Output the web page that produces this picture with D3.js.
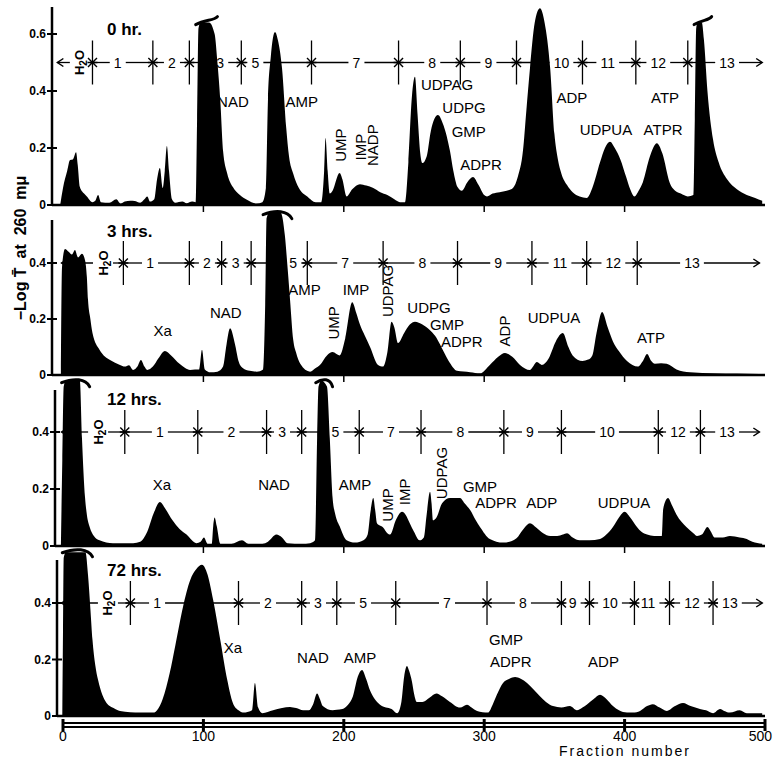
<!DOCTYPE html>
<html>
<head>
<meta charset="utf-8">
<script src="https://cdn.jsdelivr.net/npm/d3@7"></script>
<style>
body { margin: 0; background: #fff; }
svg { display: block; }
text { font-family: "Liberation Sans", Arial, sans-serif; fill: #000; }
</style>
</head>
<body>
<script>
// elution profiles, [fraction, -log T]
var hr0 = [[-2,0],[0,0.06],[3,0.12],[5,0.158],[7,0.16],[9.3,0.185],[10.5,0.14],[12,0.063],[15,0.04],[17,0.03],[21,0.01],[23,0.015],[25,0.035],[27,0.01],[33,0.008],[38,0.02],[41,0.005],[44,0.012],[48,0.015],[51,0.014],[55,0.008],[58,0.02],[60,0.03],[62,0.012],[65,0.02],[67,0.09],[69,0.13],[71,0.06],[72.5,0.12],[74,0.207],[75.5,0.12],[77.6,0.02],[80,0.008],[85,0.012],[88,0.006],[92,0.012],[94.5,0.01],[95.5,0.3],[96.5,0.62],[98,0.64],[104,0.64],[108,0.6],[110,0.5],[112,0.37],[114,0.19],[117,0.11],[121,0.063],[126,0.035],[131,0.018],[138,0.005],[142,0.01],[144.5,0.06],[146,0.37],[148,0.52],[151,0.607],[153,0.58],[156,0.48],[159,0.27],[161,0.17],[164,0.11],[168,0.06],[174,0.03],[180,0.01],[184,0.01],[186,0.12],[187,0.235],[188.5,0.12],[190,0.04],[192,0.05],[197,0.112],[199,0.09],[202,0.03],[206,0.055],[211.5,0.073],[216,0.068],[221,0.06],[226,0.045],[231,0.035],[236,0.02],[240,0.01],[243.6,0.01],[246,0.15],[248.5,0.38],[250.7,0.45],[252.5,0.32],[254.5,0.18],[256,0.147],[259,0.17],[262,0.26],[267,0.316],[271,0.28],[275.6,0.19],[278,0.12],[281,0.063],[284,0.05],[288,0.08],[292,0.098],[296,0.07],[300,0.035],[302,0.03],[306,0.04],[311,0.045],[316,0.05],[320.5,0.06],[324,0.1],[327.6,0.19],[330,0.33],[332.6,0.48],[336,0.64],[339.7,0.69],[343,0.64],[347,0.48],[350,0.25],[352.5,0.16],[355,0.11],[359,0.07],[363,0.045],[368,0.03],[373,0.025],[377,0.06],[382.5,0.15],[386,0.2],[389.6,0.222],[393,0.2],[397,0.16],[401,0.1],[404,0.055],[407,0.03],[410,0.05],[413,0.08],[418,0.17],[423,0.217],[427,0.18],[432,0.08],[436,0.05],[440,0.04],[445,0.03],[449,0.035],[450,0.3],[451,0.62],[452,0.64],[455,0.64],[456.5,0.58],[459,0.4],[463,0.23],[467,0.15],[473,0.09],[480,0.055],[487,0.035],[493,0.025],[498,0.015]];

var hr3 = [[-1.5,0],[-0.7,0.386],[1.4,0.45],[4,0.44],[6.4,0.43],[8.5,0.446],[10.7,0.42],[13.5,0.433],[15.7,0.41],[17,0.35],[17.8,0.27],[19.5,0.2],[21,0.15],[26,0.09],[30,0.065],[33.5,0.054],[40.6,0.036],[44,0.03],[47,0.035],[50,0.018],[53,0.03],[55.5,0.054],[58,0.03],[60,0.018],[64,0.03],[68,0.06],[72.6,0.086],[77,0.07],[83,0.04],[87,0.025],[90.5,0.018],[94,0.02],[97,0.02],[99,0.09],[101,0.02],[105,0.01],[110,0.012],[114,0.03],[116.5,0.11],[119,0.167],[122.5,0.11],[125,0.05],[128,0.025],[133,0.015],[138,0.012],[142.5,0.02],[144,0.25],[145,0.56],[147,0.58],[155,0.58],[158,0.5],[160,0.38],[161.7,0.27],[164,0.125],[166,0.08],[169,0.04],[176,0.012],[180,0.025],[183,0.036],[188,0.07],[192,0.082],[197,0.07],[201,0.13],[206,0.26],[209,0.22],[211.5,0.18],[215,0.14],[218.7,0.1],[224.4,0.036],[228,0.03],[231,0.08],[234,0.19],[236,0.17],[238.6,0.114],[243,0.15],[247,0.18],[250.7,0.19],[256,0.18],[261.4,0.16],[265,0.14],[268.5,0.11],[272,0.075],[275.6,0.043],[280.6,0.015],[290,0.01],[297,0.006],[304,0.036],[310,0.065],[314.8,0.079],[320,0.065],[325.5,0.036],[332.6,0.018],[337.6,0.046],[341,0.036],[346,0.06],[351,0.12],[356,0.15],[360,0.1],[363,0.07],[370,0.05],[374,0.055],[377,0.07],[380,0.15],[384,0.225],[388,0.17],[391.7,0.12],[396,0.085],[401.7,0.05],[409.5,0.03],[413,0.05],[416,0.075],[419,0.05],[421.6,0.04],[426,0.042],[430,0.04],[437,0.02],[446.6,0.01],[464,0.006],[480,0.005],[496,0.004]];

var hr12 = [[-1.5,0],[-0.5,0.3],[0.5,0.56],[2,0.58],[12,0.58],[13.5,0.38],[15.7,0.17],[17,0.11],[19,0.067],[22,0.035],[26,0.02],[35.6,0.01],[50,0.01],[55,0.015],[60,0.05],[65,0.12],[69,0.154],[73,0.13],[78,0.09],[83,0.06],[88,0.04],[95,0.01],[98,0.015],[100.4,0.03],[103,0.008],[106,0.008],[107,0.07],[108,0.1],[109.5,0.07],[112,0.008],[120,0.008],[127.5,0.02],[132,0.008],[142,0.008],[146,0.015],[152,0.04],[156,0.03],[160,0.01],[170,0.008],[176,0.01],[179.5,0.02],[181,0.38],[182,0.56],[184,0.58],[188,0.56],[190,0.38],[192,0.17],[194,0.11],[197,0.07],[202,0.02],[208,0.012],[214,0.02],[217,0.04],[219,0.12],[221,0.168],[222.5,0.12],[223.6,0.08],[228,0.065],[231,0.045],[233,0.04],[237,0.09],[241.5,0.12],[244,0.11],[247,0.08],[250,0.05],[254,0.02],[257,0.03],[259,0.11],[261.4,0.19],[262.5,0.15],[263.5,0.09],[266,0.1],[270,0.15],[275.6,0.168],[282.8,0.168],[286,0.15],[290,0.126],[294,0.09],[297,0.067],[304,0.025],[313.4,0.012],[318,0.015],[323,0.027],[328,0.06],[332.6,0.08],[337,0.065],[342,0.045],[347,0.035],[352,0.035],[356,0.04],[359,0.045],[363,0.03],[368,0.02],[375,0.02],[382.5,0.025],[387,0.04],[391.7,0.067],[396,0.1],[400,0.12],[404,0.1],[408.8,0.067],[412,0.05],[416,0.04],[421,0.035],[426.6,0.035],[427.5,0.13],[430.9,0.168],[434,0.14],[437,0.11],[444,0.067],[449,0.045],[451.6,0.035],[455,0.04],[459,0.067],[461.5,0.05],[464,0.03],[470,0.03],[475,0.035],[482,0.03],[487,0.025],[491,0.015],[498,0.008]];

var hr72 = [[-0.5,0],[0,0.3],[0.5,0.56],[2,0.58],[16,0.58],[17.8,0.5],[19.5,0.38],[21,0.27],[23,0.18],[25,0.127],[28,0.075],[31,0.046],[36,0.028],[40.6,0.018],[55,0.012],[65,0.012],[67,0.02],[71,0.06],[76,0.152],[80,0.25],[85.5,0.387],[90.5,0.48],[95,0.52],[99,0.535],[103,0.5],[107,0.41],[112,0.27],[117,0.127],[121,0.046],[125,0.02],[128,0.012],[132,0.015],[134.6,0.02],[136.7,0.117],[139,0.03],[142,0.01],[149.6,0.02],[156,0.028],[161.7,0.032],[166,0.028],[171,0.02],[175,0.02],[178,0.04],[181,0.08],[183,0.06],[185,0.035],[192,0.02],[195,0.022],[199,0.025],[203,0.04],[206.5,0.07],[210,0.14],[213,0.163],[216,0.13],[218.7,0.09],[222,0.06],[225.8,0.04],[230,0.03],[234,0.025],[238,0.01],[241,0.05],[243,0.14],[245,0.177],[246.5,0.16],[248.6,0.12],[250,0.08],[252,0.05],[256,0.05],[261,0.065],[266,0.08],[270,0.07],[275.6,0.05],[282.8,0.03],[287.7,0.04],[291,0.03],[294.9,0.018],[302.7,0.012],[306,0.04],[309,0.075],[313.4,0.117],[318,0.132],[322,0.138],[326,0.132],[330.5,0.117],[335,0.095],[339.7,0.07],[344,0.05],[349,0.035],[355,0.03],[361,0.035],[366,0.02],[370,0.03],[373,0.04],[378,0.06],[382.5,0.075],[387,0.06],[391.7,0.035],[396,0.02],[401.7,0.012],[406,0.012],[411,0.018],[416,0.035],[420,0.042],[425,0.03],[430,0.018],[436,0.035],[441.6,0.046],[447,0.035],[453.7,0.025],[458,0.02],[463,0.01],[468,0.025],[471,0.018],[475,0.012],[482,0.02],[487,0.01],[498,0.01]];

// off-scale peaks: [from, to, top value, curl (+1 up, -1 down)]
var cut0 = [[94.5,110,0.64,1],[449.5,462,0.64,1]];
var cut3 = [[142.5,163,0.58,-1]];
var cut12 = [[-1,19,0.58,-1],[180,192,0.58,-1]];
var cut72 = [[-0.5,21,0.585,-1]];

// eluant change points (fractions) and the eluant numbers between them
var steps0 = [21,64,90,127,177,239,283,323,370,408,445];
var stepNames0 = ["H2O","1","2","3","5","7","8","9","10","11","12","13"];
var stepAt0 = [12,39,77.6,112,137,209,263,303,355,388,424,473];
var steps3 = [43,90,113,134,174,228,281,334,373,409];
var stepNames3 = ["H2O","1","2","3","5","7","8","9","11","12","13"];
var stepAt3 = [28.5,62,102.5,123,164,201,256,310,354,392,448];
var steps12 = [44,96,145,170,211,255,314,355,424,454];
var stepNames12 = ["H2O","1","2","3","5","7","8","9","10","12","13"];
var stepAt12 = [25,69,120,156,194,233.6,283,332.6,387.5,438,473];
var steps72 = [48,125,170,195,237,302,355,375,407,432,463];
var stepNames72 = ["H2O","1","2","3","5","7","8","9","10","11","12","13"];
var stepAt72 = [32,67,146,181.6,213.7,273.5,327.6,363,389.6,416.7,448,475];

// peak names: [text, fraction, -log T, vertical?]
var peaks0 = [["NAD",121,0.344],["AMP",170,0.344],["UMP",198,0.21,1],["IMP",212,0.203,1],["NADP",220.5,0.21,1],
  ["UDPAG",273.5,0.404],["UDPG",285.6,0.323],["GMP",289,0.239],["ADPR",297.7,0.123],["ADP",362.5,0.358],
  ["ATP",428.8,0.358],["UDPUA",386.7,0.246],["ATPR",427.4,0.246]];
var peaks3 = [["Xa",71,0.139],["NAD",116,0.204],["AMP",172,0.286],["IMP",208.7,0.286],["UMP",193,0.186,1],
  ["UDPAG",231,0.3,1],["UDPG",260.7,0.223],["GMP",273.5,0.162],["ADPR",284,0.1],["ADP",314.8,0.157,1],
  ["UDPUA",349.7,0.186],["ATP",418.8,0.114]];
var peaks12 = [["Xa",70.5,0.196],["NAD",150.3,0.196],["AMP",208,0.196],["UMP",231.5,0.144,1],["IMP",243.6,0.19,1],
  ["UDPAG",270,0.256,1],["GMP",297,0.19],["ADPR",308.4,0.133],["ADP",341,0.133],["UDPUA",399.6,0.133]];
var peaks72 = [["Xa",121,0.223],["NAD",178,0.188],["AMP",211.5,0.188],["GMP",315.5,0.252],["ADPR",319,0.174],["ADP",385,0.174]];

var xTicks = [0,100,200,300,400,500];

var width = 776, height = 761;
var svg = d3.select("body").append("svg").attr("width", width).attr("height", height);

var x = d3.scaleLinear().domain([0, 500]).range([63, 765]);

var panels = [
  {title:"0 hr.", data:hr0, cuts:cut0, steps:steps0, names:stepNames0, at:stepAt0, peaks:peaks0,
   y:d3.scaleLinear().domain([0,0.6]).range([205,34]), ticks:[0,0.2,0.4,0.6], axisX:52, top:7, markY:0.5, start:-4, end:498, titleY:35, under:true},
  {title:"3 hrs.", data:hr3, cuts:cut3, steps:steps3, names:stepNames3, at:stepAt3, peaks:peaks3,
   y:d3.scaleLinear().domain([0,0.4]).range([375,263]), ticks:[0,0.2,0.4], axisX:52, top:220, markY:0.4, start:-1, end:496, titleY:237, under:true},
  {title:"12 hrs.", data:hr12, cuts:cut12, steps:steps12, names:stepNames12, at:stepAt12, peaks:peaks12,
   y:d3.scaleLinear().domain([0,0.4]).range([546,432]), ticks:[0,0.2,0.4], axisX:55, top:390, markY:0.4, start:-1, end:496, titleY:405, under:true},
  {title:"72 hrs.", data:hr72, cuts:cut72, steps:steps72, names:stepNames72, at:stepAt72, peaks:peaks72,
   y:d3.scaleLinear().domain([0,0.4]).range([716,603]), ticks:[0,0.2,0.4], axisX:57, top:560, markY:0.4, start:-1, end:498, titleY:576, under:false}
];

panels.forEach(function(p) {
  var g = svg.append("g");
  var y = p.y;

  // the profile
  var area = d3.area()
    .curve(d3.curveMonotoneX)
    .x(function(d) { return x(d[0]); })
    .y0(y(0))
    .y1(function(d) { return y(d[1]); });
  g.append("path").datum(p.data).attr("d", area).attr("fill", "#000");

  // curled caps on peaks that ran off the recorder
  p.cuts.forEach(function(c) {
    var x0 = x(c[0]), x1 = x(c[1]), yt = y(c[2]), w = x1 - x0;
    g.append("path")
      .attr("d", "M" + x0 + "," + (yt + 2) + "C" + (x0 + w * 0.45) + "," + (yt - 3) + " " +
        (x1 - w * 0.15) + "," + (yt - 2) + " " + x1 + "," + (yt - c[3] * 6))
      .attr("fill", "none").attr("stroke", "#000").attr("stroke-width", 3).attr("stroke-linecap", "round");
  });

  // baseline
  g.append("line").attr("x1", p.axisX).attr("x2", x(500)).attr("y1", y(0)).attr("y2", y(0))
    .attr("stroke", "#000").attr("stroke-width", 2.5);
  if (p.under) {
    [100,200,300,400].forEach(function(t) {
      g.append("line").attr("x1", x(t)).attr("x2", x(t)).attr("y1", y(0)).attr("y2", y(0) + 7)
        .attr("stroke", "#000").attr("stroke-width", 1.5);
    });
  }

  // y axis
  g.append("line").attr("x1", p.axisX).attr("x2", p.axisX).attr("y1", p.top).attr("y2", y(0))
    .attr("stroke", "#000").attr("stroke-width", 2.5);
  p.ticks.forEach(function(t) {
    g.append("line").attr("x1", p.axisX - 5).attr("x2", p.axisX + 5).attr("y1", y(t)).attr("y2", y(t))
      .attr("stroke", "#000").attr("stroke-width", 2);
    g.append("text").attr("x", p.axisX - 6).attr("y", y(t)).attr("dy", "0.35em")
      .attr("text-anchor", "end").style("font-size", "12px").style("font-weight", "bold")
      .text(t === 0 ? "0" : d3.format(".1f")(t));
  });

  g.append("text").attr("x", 107).attr("y", p.titleY)
    .style("font-size", "17px").style("font-weight", "bold").text(p.title);

  // eluant bar
  var ly = y(p.markY);
  var bounds = [p.start].concat(p.steps).concat([p.end]);
  p.names.forEach(function(n, i) {
    var lx = x(p.at[i]), half;
    if (n === "H2O") {
      var h = g.append("text").attr("transform", "translate(" + lx + "," + ly + ") rotate(-90)")
        .attr("dy", "0.35em").attr("text-anchor", "middle")
        .style("font-size", "13px").style("font-weight", "bold");
      h.append("tspan").text("H");
      h.append("tspan").attr("dy", "3").style("font-size", "10px").text("2");
      h.append("tspan").attr("dy", "-3").text("O");
      half = 6;
    } else {
      var t = g.append("text").attr("x", lx).attr("y", ly).attr("dy", "0.36em")
        .attr("text-anchor", "middle").style("font-size", "14px").text(n);
      half = t.node().getBBox().width / 2;
    }
    var a = x(bounds[i]), b = x(bounds[i + 1]);
    [[a, lx - half - 4], [lx + half + 4, b]].forEach(function(s) {
      if (s[1] - s[0] > 1) {
        g.append("line").attr("x1", s[0]).attr("x2", s[1]).attr("y1", ly).attr("y2", ly)
          .attr("stroke", "#000").attr("stroke-width", 1.3);
      }
    });
  });
  var xs = x(p.start), xe = x(p.end);
  g.append("path").attr("d", "M" + (xs + 6) + "," + (ly - 4) + "L" + xs + "," + ly + "L" + (xs + 6) + "," + (ly + 4))
    .attr("fill", "none").attr("stroke", "#000").attr("stroke-width", 1.5);
  g.append("path").attr("d", "M" + (xe - 6) + "," + (ly - 4) + "L" + xe + "," + ly + "L" + (xe - 6) + "," + (ly + 4))
    .attr("fill", "none").attr("stroke", "#000").attr("stroke-width", 1.5);
  p.steps.forEach(function(s) {
    var sx = x(s);
    g.append("line").attr("x1", sx).attr("x2", sx).attr("y1", ly - 22).attr("y2", ly + 22)
      .attr("stroke", "#000").attr("stroke-width", 1.3);
    g.append("path").attr("d", "M" + (sx - 4.5) + "," + (ly - 4.5) + "L" + (sx + 4.5) + "," + (ly + 4.5) +
        "M" + (sx - 4.5) + "," + (ly + 4.5) + "L" + (sx + 4.5) + "," + (ly - 4.5) +
        "M" + (sx - 5) + "," + ly + "L" + (sx + 5) + "," + ly)
      .attr("stroke", "#000").attr("stroke-width", 1.4);
  });

  // peak names
  p.peaks.forEach(function(k) {
    var px = x(k[1]), py = y(k[2]);
    if (k[3]) {
      g.append("text").attr("transform", "translate(" + px + "," + py + ") rotate(-90)")
        .attr("dy", "0.36em").attr("text-anchor", "middle").style("font-size", "15px").text(k[0]);
    } else {
      g.append("text").attr("x", px).attr("y", py).attr("text-anchor", "middle")
        .style("font-size", "15px").text(k[0]);
    }
  });
});

// fraction axis
[723, 727].forEach(function(ay) {
  svg.append("line").attr("x1", x(0)).attr("x2", x(500)).attr("y1", ay).attr("y2", ay)
    .attr("stroke", "#000").attr("stroke-width", 2);
});
xTicks.forEach(function(t, i) {
  svg.append("line").attr("x1", x(t)).attr("x2", x(t)).attr("y1", 719).attr("y2", 731)
    .attr("stroke", "#000").attr("stroke-width", 3);
  var last = i === xTicks.length - 1;
  svg.append("text").attr("x", last ? x(t) + 7 : x(t)).attr("y", 741)
    .attr("text-anchor", last ? "end" : "middle")
    .style("font-size", "14px").text(t);
});
svg.append("text").attr("x", 625).attr("y", 756).attr("text-anchor", "middle")
  .style("font-size", "14px").style("letter-spacing", "2px").text("Fraction number");

svg.append("text").attr("transform", "translate(20,248) rotate(-90)")
  .attr("dy", "0.35em").attr("text-anchor", "middle")
  .style("font-size", "16px").style("font-weight", "bold").style("white-space", "pre")
  .text("\u2212Log T\u0304  at  260  m\u03bc");
</script>
</body>
</html>
